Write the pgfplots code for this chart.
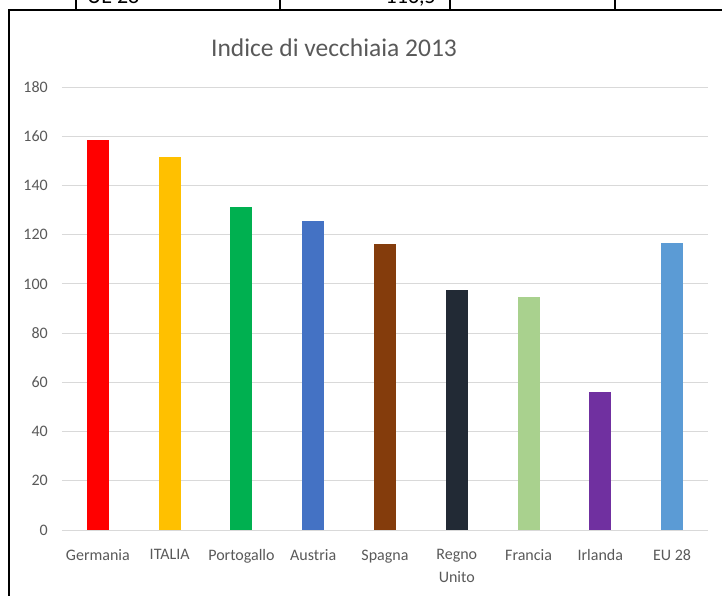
\documentclass[border=0pt]{standalone}
\usepackage{fontspec}
\setmainfont{Carlito}
\usepackage{pgfplots}
\pgfplotsset{compat=1.18}
\definecolor{txtgray}{HTML}{595959}
\definecolor{gridgray}{HTML}{D9D9D9}
\definecolor{cGer}{HTML}{FF0000}
\definecolor{cIta}{HTML}{FFC000}
\definecolor{cPor}{HTML}{00B050}
\definecolor{cAus}{HTML}{4472C4}
\definecolor{cSpa}{HTML}{843C0C}
\definecolor{cReg}{HTML}{222A35}
\definecolor{cFra}{HTML}{A9D18E}
\definecolor{cIrl}{HTML}{7030A0}
\definecolor{cEU}{HTML}{5B9BD5}
\begin{document}
\begin{tikzpicture}[x=1pt,y=1pt]
\useasboundingbox (0,0) rectangle (722,596);
% partial table row at the top (cropped screenshot)
\begin{scope}
\clip (0,586) rectangle (722,596);
\node[anchor=base west,inner sep=0pt,font=\fontsize{22}{24}\selectfont] at (87,592) {UE 28};
\node[anchor=base east,inner sep=0pt,font=\fontsize{22}{24}\selectfont] at (436,592) {116,5};
\end{scope}
\draw[line width=1.8pt] (76,586) -- (76,596);
\draw[line width=1.8pt] (280,586) -- (280,596);
\draw[line width=1.8pt] (450,586) -- (450,596);
\draw[line width=1.8pt] (615,586) -- (615,596);
% chart frame
\draw[line width=1.8pt] (9,0) -- (9,586) -- (722,586);
% title
\node[anchor=base,inner sep=0pt,text=txtgray,font=\fontsize{25.5}{28}\selectfont] at (334,539.5) {Indice di vecchiaia 2013};
\begin{axis}[
  at={(62pt,66pt)}, anchor=south west,
  scale only axis, width=646pt, height=443pt,
  xmin=-0.5, xmax=8.5, ymin=0, ymax=180,
  ytick={0,20,...,180},
  xtick={0,...,8},
  xticklabels={Germania,ITALIA,Portogallo,Austria,Spagna,{Regno\\Unito},Francia,Irlanda,EU 28},
  ymajorgrids, grid style={gridgray,line width=0.9pt},
  axis line style={draw=none},
  major tick length=0pt,
  tick label style={text=txtgray,font=\fontsize{16}{23}\selectfont},
  xticklabel style={align=center,anchor=north,inner sep=0pt,yshift=-19.5pt},
  yticklabel style={anchor=east,inner sep=0pt,xshift=-14pt},
  /pgf/number format/assume math mode=true,
  ybar, bar width=22pt, bar shift=0pt,
  clip=false,
]
\addplot[fill=cGer,draw=none] coordinates {(0,158.5)};
\addplot[fill=cIta,draw=none] coordinates {(1,151.6)};
\addplot[fill=cPor,draw=none] coordinates {(2,131.3)};
\addplot[fill=cAus,draw=none] coordinates {(3,125.6)};
\addplot[fill=cSpa,draw=none] coordinates {(4,116.3)};
\addplot[fill=cReg,draw=none] coordinates {(5,97.6)};
\addplot[fill=cFra,draw=none] coordinates {(6,94.7)};
\addplot[fill=cIrl,draw=none] coordinates {(7,56.1)};
\addplot[fill=cEU,draw=none] coordinates {(8,116.5)};
\end{axis}
\end{tikzpicture}
\end{document}
